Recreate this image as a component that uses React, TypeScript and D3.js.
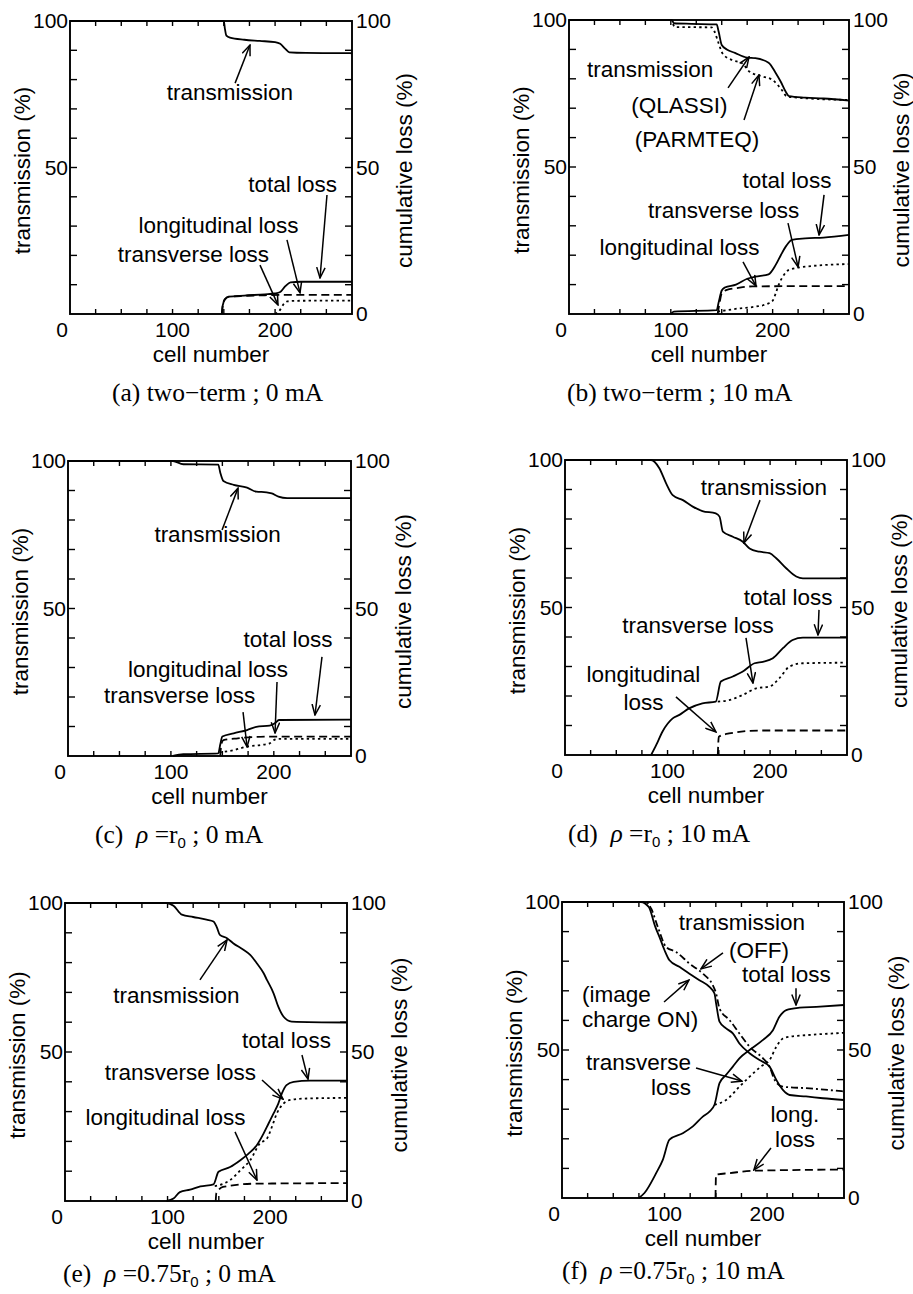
import React from 'react';
import * as d3 from 'd3';

type Pt = [number, number];

// ---------- axes ----------
const X_MAX = 275;
const Y_MAX = 100;
const X_TICK_LABELS = [0, 100, 200];
const Y_TICK_LABELS = [50, 100];
const RIGHT_TICK_LABELS = [0, 50, 100];
const X_MINOR_STEP = 25;
const Y_MINOR_STEP = 10;
const X_TITLE = 'cell number';
const Y_TITLE_LEFT = 'transmission (%)';
const Y_TITLE_RIGHT = 'cumulative loss (%)';

// ---------- (a) two-term ; 0 mA ----------
const A_TRANSMISSION: Pt[] = [[0,100],[150,100],[151,97.5],[152.5,95],[156,94.3],[170,93.6],[185,93.2],[200,92.8],[205,92.2],[210,90.5],[214,89.3],[230,89.1],[275,89]];
const A_TOTAL: Pt[] = [[148,0],[149,3],[151,5],[155,5.9],[170,6.3],[190,6.7],[200,7],[205,7.5],[210,9.5],[215,10.8],[225,11],[275,11]];
const A_LONG: Pt[] = [[148,0],[149,3],[151,5],[155,5.9],[170,6.2],[190,6.4],[205,6.5],[275,6.5]];
const A_TRANS: Pt[] = [[200,0],[204,1],[208,3.2],[212,4.3],[220,4.5],[275,4.6]];

// ---------- (b) two-term ; 10 mA ----------
const B_QLASSI: Pt[] = [[0,100],[101,100],[103,98.9],[120,98.7],[145,98.5],[147,96],[150,91.5],[155,90],[163,88.8],[175,87.2],[183,87],[196,85.5],[203,82],[208,79],[213,75.5],[216,74.1],[232,73.6],[250,73.3],[275,72.6]];
const B_PARMTEQ: Pt[] = [[0,100],[100,100],[104,97.6],[140,97.5],[143,96],[147,92],[151,88.5],[160,86.4],[170,85.3],[177,82.5],[190,80.8],[200,79.6],[209,76.2],[214,74],[232,73.4],[275,72.8]];
const B_TOTAL: Pt[] = [[100,0],[103,0.8],[145,1.3],[147,4],[150,8],[153,9],[164,10],[175,12],[183,12.7],[196,13.5],[203,16.7],[208,20],[213,23],[219,25.2],[232,25.7],[250,26],[275,26.9]];
const B_LONG: Pt[] = [[146,0],[148,4],[150,7],[155,8.2],[165,8.8],[180,9.4],[275,9.5]];
const B_TRANS: Pt[] = [[146,0.8],[167,1.9],[183,2.5],[196,3.6],[200,4.5],[203,7],[206,10],[210,12.7],[216,15],[232,16.1],[275,17]];

// ---------- (c) rho = r0 ; 0 mA ----------
const C_TRANSMISSION: Pt[] = [[0,100],[102,100],[112,98.9],[146,98.8],[148,96],[151,93.2],[161,91.9],[174,91],[183,89.6],[193,89.4],[198,89],[204.5,87.9],[213,87.4],[275,87.4]];
const C_TOTAL: Pt[] = [[102,0],[112,0.6],[146,0.9],[148,4],[150,6.6],[161,7.7],[174,8.8],[183,9.9],[196,10.3],[201,11.1],[205,12.2],[275,12.3]];
const C_LONG: Pt[] = [[148,0],[149,4],[151,5.4],[165,6],[180,6.4],[200,6.6],[275,6.6]];
const C_TRANS: Pt[] = [[147,1.2],[161,2],[174,3.2],[187,3.7],[196,4.3],[200,5.4],[205,5.8],[275,5.8]];

// ---------- (d) rho = r0 ; 10 mA ----------
const D_TRANSMISSION: Pt[] = [[0,100],[84,100],[92,97.2],[98.6,92.1],[105,88.1],[115,86.4],[124.6,84.2],[134,82.7],[147,81.9],[150.7,80.8],[154,75.7],[163.7,74],[173.4,72.3],[180,70],[189.7,68.9],[199.5,68.4],[206,66.7],[215.7,63.3],[225.5,60.5],[232,59.9],[275,59.9]];
const D_TOTAL: Pt[] = [[84,0],[89,3.4],[95,7.9],[105,12.4],[111.6,13.6],[121,15.8],[134,17.5],[147,18.1],[152,24.9],[163.7,26.6],[173,28.2],[184.8,31.1],[193,31.6],[202.7,32.8],[212.5,36.2],[222,39],[232,39.8],[275,39.8]];
const D_TRANS: Pt[] = [[149,18.1],[160,18.6],[173,20.3],[186.5,22.6],[199.5,23.2],[209,26],[219,30],[232,31.1],[275,31.3]];
const D_LONG: Pt[] = [[149,0],[150,6.2],[160,7.3],[190,8.3],[275,8.3]];

// ---------- (e) rho = 0.75 r0 ; 0 mA ----------
const E_TRANSMISSION: Pt[] = [[0,100],[99,100],[105.8,99.1],[114,96.1],[125,95.3],[138,94.4],[144.8,93.8],[148,91.9],[151,89.3],[158,88.2],[164,86.5],[174,84.3],[180.6,82.6],[187,79.8],[193.6,76.5],[196.9,74.2],[203.4,69.7],[208,65.2],[213,61.9],[221,60.2],[275,59.9]];
const E_TOTAL: Pt[] = [[99,0],[105.8,0.8],[112,3],[122,3.8],[132,4.9],[144.8,5.6],[149.7,9.8],[161,11.4],[171,13.7],[179,15.9],[187,18.7],[193.6,22.6],[198.5,26],[203.4,29.4],[208,32.7],[211.5,36.1],[216,38.9],[223,40],[239,40.4],[275,40.4]];
const E_TRANS: Pt[] = [[146,5],[161,7],[171,10.3],[180.6,13.7],[190,19.3],[197,21],[201.8,24.9],[206.6,29.4],[213,32.7],[219.7,33.9],[236,34.4],[275,34.6]];
const E_LONG: Pt[] = [[147,0],[147.5,2.5],[154,4.7],[184,5.8],[275,6]];

// ---------- (f) rho = 0.75 r0 ; 10 mA ----------
const F_TRANS_ON: Pt[] = [[0,100],[77,100],[84.6,98.3],[91,91.6],[95,88.2],[100,83.7],[104.8,80.3],[114.5,78.1],[124.3,75.8],[134,73.6],[143.8,71.3],[148.7,69.1],[150.3,65.7],[153.6,59.6],[160,57.3],[166.6,55.6],[173,52.2],[182.9,48.9],[192.6,46.6],[202.4,44.4],[209,39.9],[215.4,36.5],[222,34.8],[238,34.3],[254.5,33.7],[275,33.1]];
const F_TRANS_OFF: Pt[] = [[0,100],[82,100],[86.9,97.8],[93.4,91.6],[101.5,84.8],[111.3,83.1],[124.3,79.2],[137.3,75.8],[147,71.9],[150.3,69.1],[153.6,64],[163.4,60.1],[173,55.6],[183,51.1],[196,47.2],[202.4,44.4],[207.3,39.9],[215.4,37.6],[238,37.1],[275,36]];
const F_TOTAL: Pt[] = [[74.8,0],[80.4,1.7],[91.8,8.4],[98.3,12.9],[104.8,19.7],[117.8,21.9],[127.6,24.2],[137.3,27.5],[143.8,29.2],[148.7,31.5],[153.6,38.8],[160,41.6],[166.6,44.4],[173,47.2],[182.9,50],[196,53.4],[205.7,56.7],[212,61.2],[218.7,63.5],[231.7,64.3],[248,64.6],[275,65.2]];
const F_TRANS: Pt[] = [[148.7,31.5],[160,33.1],[173,37.6],[183,41],[194,44.4],[202.4,46.6],[209,51.1],[215.4,53.9],[222,54.5],[238,55],[275,55.8]];
const F_LONG: Pt[] = [[149.7,0],[150.2,7.9],[163.4,8.4],[186,9.2],[275,9.6]];

// ---------- annotations (data coordinates) ----------
type Label = { t: string; x: number; y: number; a?: 'start' | 'middle' | 'end' };
type Arrow = [Pt, Pt];

const A_LABELS: Label[] = [
  { t: 'transmission', x: 156, y: 73 },
  { t: 'total loss', x: 217, y: 41.6 },
  { t: 'longitudinal loss', x: 144.8, y: 27.6 },
  { t: 'transverse loss', x: 120.4, y: 17.7 },
];
const A_ARROWS: Arrow[] = [[[161,78.8],[175.5,91.8]], [[250.6,40.6],[243.8,12.3]], [[211.6,25.3],[224.3,7.2]], [[185.3,16.7],[202.8,3.1]]];

const B_LABELS: Label[] = [
  { t: 'transmission', x: 79.6, y: 80.7 },
  { t: '(QLASSI)', x: 108.5, y: 68.4 },
  { t: '(PARMTEQ)', x: 125.7, y: 56.8 },
  { t: 'total loss', x: 214.1, y: 42.9 },
  { t: 'transverse loss', x: 151.8, y: 32.7 },
  { t: 'longitudinal loss', x: 108.5, y: 20.1 },
];
const B_ARROWS: Arrow[] = [[[156.2,76.9],[176.8,87.4]], [[171.9,66],[186.6,81.3]], [[250.5,40.5],[245.6,26.9]], [[215.1,30.9],[225,16]], [[170.9,17.7],[183.7,9.5]]];

const C_LABELS: Label[] = [
  { t: 'transmission', x: 145.3, y: 72.6 },
  { t: 'total loss', x: 213.8, y: 36.9 },
  { t: 'longitudinal loss', x: 136, y: 26.8 },
  { t: 'transverse loss', x: 108.4, y: 18 },
];
const C_ARROWS: Arrow[] = [[[149.7,76.6],[165.2,90.8]], [[246.8,33.6],[240,13.9]], [[203.1,25.1],[201.2,7.8]], [[170.1,14.9],[174,3.1]]];

const D_LABELS: Label[] = [
  { t: 'transmission', x: 194, y: 88.1 },
  { t: 'total loss', x: 217.5, y: 50.8 },
  { t: 'transverse loss', x: 129.7, y: 41.4 },
  { t: 'longitudinal', x: 76.5, y: 24.7 },
  { t: 'loss', x: 76.5, y: 15.3 },
];
const D_ARROWS: Arrow[] = [[[190.2,86.4],[174.5,71.9]], [[247.7,49.2],[246.7,40.7]], [[176.5,39.7],[183.3,24.4]], [[108.2,19.7],[147.2,7.8]]];

const E_LABELS: Label[] = [
  { t: 'transmission', x: 108.7, y: 66.4 },
  { t: 'total loss', x: 216, y: 51.3 },
  { t: 'transverse loss', x: 112.6, y: 40.6 },
  { t: 'longitudinal loss', x: 98, y: 25.5 },
];
const E_ARROWS: Arrow[] = [[[131.6,74.2],[158,87.6]], [[231.1,49],[237,40.9]], [[192.1,40.6],[212.6,34.2]], [[165.8,23.2],[187.2,7]]];

const F_LABELS: Label[] = [
  { t: 'transmission', x: 175.5, y: 90.5 },
  { t: '(OFF)', x: 192.1, y: 81.1 },
  { t: 'total loss', x: 218.9, y: 73 },
  { t: '(image', x: 19.5, y: 66.2, a: 'start' },
  { t: 'charge ON)', x: 19.5, y: 57.8, a: 'start' },
  { t: 'transverse', x: 125.8, y: 43.2, a: 'end' },
  { t: 'loss', x: 125.8, y: 34.8, a: 'end' },
  { t: 'long.', x: 227.2, y: 25.7 },
  { t: 'loss', x: 227.2, y: 17.2 },
];
const F_ARROWS: Arrow[] = [[[157,82.8],[135.5,77.4]], [[228.2,70.9],[228.2,65.2]], [[99.5,66.2],[123.8,73.6]], [[130.7,43.9],[175.5,39.5]], [[203.8,16.9],[187.2,9.5]]];

// ---------- captions ----------
const CAPTION_TAGS = ['(a)', '(b)', '(c)', '(d)', '(e)', '(f)'];
const CAPTION_CURRENTS = ['0 mA', '10 mA', '0 mA', '10 mA', '0 mA', '10 mA'];
const CAPTION_RHO = [null, null, '', '', '0.75', '0.75'];

// ---------- styles ----------
const SANS = 'Liberation Sans, Arial, Helvetica, sans-serif';
const SERIF = 'Liberation Serif, Times New Roman, serif';
const DASH: Record<string, string | undefined> = {
  solid: undefined,
  dotted: '2.4,3.2',
  dashed: '8,4.5',
  dashdot: '7,3,2,3',
};

type Series = { data: Pt[]; style: keyof typeof DASH };
type Box = { l: number; r: number; t: number; b: number };
type PanelCfg = { box: Box; series: Series[]; labels: Label[]; arrows: Arrow[]; capX: number; capDy: number; idx: number };

const PANELS: PanelCfg[] = [
  { idx: 0, box: { l: 70, r: 352, t: 21, b: 314 }, capX: 112, capDy: 87,
    series: [{ data: A_TRANSMISSION, style: 'solid' }, { data: A_LONG, style: 'dashed' }, { data: A_TRANS, style: 'dotted' }, { data: A_TOTAL, style: 'solid' }],
    labels: A_LABELS, arrows: A_ARROWS },
  { idx: 1, box: { l: 569, r: 849, t: 20, b: 314 }, capX: 567, capDy: 87,
    series: [{ data: B_PARMTEQ, style: 'dotted' }, { data: B_QLASSI, style: 'solid' }, { data: B_LONG, style: 'dashed' }, { data: B_TRANS, style: 'dotted' }, { data: B_TOTAL, style: 'solid' }],
    labels: B_LABELS, arrows: B_ARROWS },
  { idx: 2, box: { l: 68, r: 351, t: 461, b: 756 }, capX: 95, capDy: 87,
    series: [{ data: C_TRANSMISSION, style: 'solid' }, { data: C_LONG, style: 'dashed' }, { data: C_TRANS, style: 'dotted' }, { data: C_TOTAL, style: 'solid' }],
    labels: C_LABELS, arrows: C_ARROWS },
  { idx: 3, box: { l: 565, r: 847, t: 460, b: 755 }, capX: 568, capDy: 87,
    series: [{ data: D_TRANSMISSION, style: 'solid' }, { data: D_LONG, style: 'dashed' }, { data: D_TRANS, style: 'dotted' }, { data: D_TOTAL, style: 'solid' }],
    labels: D_LABELS, arrows: D_ARROWS },
  { idx: 4, box: { l: 65, r: 347, t: 903, b: 1201 }, capX: 63, capDy: 81,
    series: [{ data: E_TRANSMISSION, style: 'solid' }, { data: E_LONG, style: 'dashed' }, { data: E_TRANS, style: 'dotted' }, { data: E_TOTAL, style: 'solid' }],
    labels: E_LABELS, arrows: E_ARROWS },
  { idx: 5, box: { l: 562, r: 844, t: 902, b: 1198 }, capX: 562, capDy: 81,
    series: [{ data: F_TRANS_OFF, style: 'dashdot' }, { data: F_TRANS_ON, style: 'solid' }, { data: F_LONG, style: 'dashed' }, { data: F_TRANS, style: 'dotted' }, { data: F_TOTAL, style: 'solid' }],
    labels: F_LABELS, arrows: F_ARROWS },
];

function Caption({ idx, x, y }: { idx: number; x: number; y: number }) {
  const tag = CAPTION_TAGS[idx];
  const cur = CAPTION_CURRENTS[idx];
  const rho = CAPTION_RHO[idx];
  if (rho === null) {
    return (
      <text x={x} y={y} fontFamily={SERIF} fontSize={25.5} style={{ whiteSpace: 'pre' }}>
        {`${tag} two\u2212term ; ${cur}`}
      </text>
    );
  }
  return (
    <text x={x} y={y} fontFamily={SERIF} fontSize={25.5} style={{ whiteSpace: 'pre' }}>
      {`${tag}  `}
      <tspan fontStyle="italic">{'\u03c1'}</tspan>
      {` =${rho}r`}
      <tspan fontFamily={SANS} fontSize={15} dy={5}>0</tspan>
      <tspan dy={-5}>{` ; ${cur}`}</tspan>
    </text>
  );
}

function Panel({ cfg }: { cfg: PanelCfg }) {
  const { l, r, t, b } = cfg.box;
  const x = d3.scaleLinear().domain([0, X_MAX]).range([l, r]);
  const y = d3.scaleLinear().domain([0, Y_MAX]).range([b, t]);
  const line = d3.line<Pt>().x((d) => x(d[0])).y((d) => y(d[1])).curve(d3.curveMonotoneX);
  const xMinor = d3.range(X_MINOR_STEP, X_MAX, X_MINOR_STEP);
  const yMinor = d3.range(Y_MINOR_STEP, Y_MAX, Y_MINOR_STEP);
  const midY = (t + b) / 2;

  return (
    <g>
      <g clipPath={`url(#clip${cfg.idx})`}>
        {cfg.series.map((s, i) => (
          <path key={i} d={line(s.data) || ''} fill="none" stroke="#000" strokeWidth={1.8}
            strokeDasharray={DASH[s.style]} strokeLinejoin="round" />
        ))}
      </g>
      {xMinor.map((v) => (
        <g key={'x' + v}>
          <line x1={x(v)} x2={x(v)} y1={b} y2={b - 5} stroke="#000" strokeWidth={1.4} />
          <line x1={x(v)} x2={x(v)} y1={t} y2={t + 5} stroke="#000" strokeWidth={1.4} />
        </g>
      ))}
      {yMinor.map((v) => (
        <g key={'y' + v}>
          <line x1={l} x2={l + 7} y1={y(v)} y2={y(v)} stroke="#000" strokeWidth={1.4} />
          <line x1={r} x2={r - 7} y1={y(v)} y2={y(v)} stroke="#000" strokeWidth={1.4} />
        </g>
      ))}
      <rect x={l} y={t} width={r - l} height={b - t} fill="none" stroke="#000" strokeWidth={1.9} />
      <g fontFamily={SANS} fontSize={21}>
        {X_TICK_LABELS.map((v) => (
          <text key={'xl' + v} x={v === 0 ? l - 2 : x(v)} y={b + 23} textAnchor={v === 0 ? 'end' : 'middle'}>{v}</text>
        ))}
        {Y_TICK_LABELS.map((v) => (
          <text key={'yl' + v} x={l - 2} y={y(v)} dy="0.35em" textAnchor="end">{v}</text>
        ))}
        {RIGHT_TICK_LABELS.map((v) => (
          <text key={'rl' + v} x={r + 4} y={y(v)} dy="0.35em" textAnchor="start">{v}</text>
        ))}
      </g>
      <g fontFamily={SANS} fontSize={22.5}>
        <text x={(l + r) / 2} y={b + 48} textAnchor="middle">{X_TITLE}</text>
        <text transform={`translate(${l - 48},${midY + 3}) rotate(-90)`} dy="0.35em" textAnchor="middle">{Y_TITLE_LEFT}</text>
        <text transform={`translate(${r + 52},${midY + 3}) rotate(-90)`} dy="0.35em" textAnchor="middle">{Y_TITLE_RIGHT}</text>
      </g>
      <g fontFamily={SANS} fontSize={22.5}>
        {cfg.labels.map((lb, i) => (
          <text key={'lb' + i} x={x(lb.x)} y={y(lb.y)} textAnchor={lb.a || 'middle'}>{lb.t}</text>
        ))}
      </g>
      {cfg.arrows.map((a, i) => (
        <line key={'ar' + i} x1={x(a[0][0])} y1={y(a[0][1])} x2={x(a[1][0])} y2={y(a[1][1])}
          stroke="#000" strokeWidth={1.5} markerEnd="url(#ah)" />
      ))}
      <Caption idx={cfg.idx} x={cfg.capX} y={b + cfg.capDy} />
    </g>
  );
}

export default function App() {
  return (
    <svg width={913} height={1294} style={{ position: 'absolute', left: 0, top: 0, background: '#fff' }}>
      <defs>
        <marker id="ah" viewBox="0 0 12 10" refX={11} refY={5} markerWidth={12} markerHeight={10}
          markerUnits="userSpaceOnUse" orient="auto">
          <path d="M0.5,0.8 L11,5 L0.5,9.2" fill="none" stroke="#000" strokeWidth={1.5} />
        </marker>
        {PANELS.map((p) => (
          <clipPath key={p.idx} id={`clip${p.idx}`}>
            <rect x={p.box.l} y={p.box.t - 1} width={p.box.r - p.box.l} height={p.box.b - p.box.t + 2} />
          </clipPath>
        ))}
      </defs>
      <rect x={0} y={0} width={913} height={1294} fill="#fff" />
      {PANELS.map((p) => <Panel key={p.idx} cfg={p} />)}
    </svg>
  );
}
